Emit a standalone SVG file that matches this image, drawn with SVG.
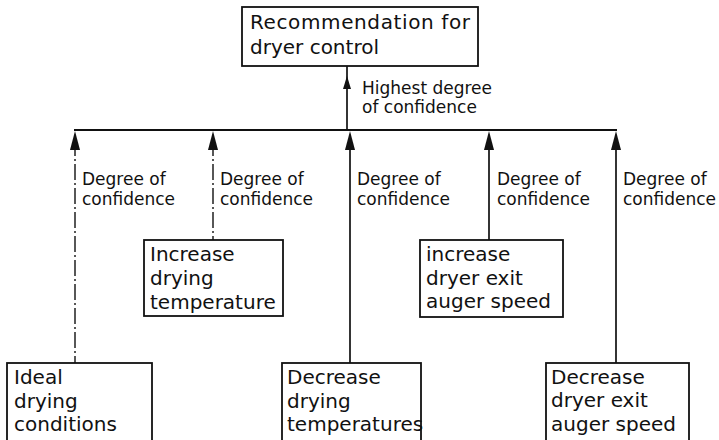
<svg xmlns="http://www.w3.org/2000/svg" width="719" height="440" viewBox="0 0 719 440">
<style>
.box{fill:#fff;stroke:#111;stroke-width:1.8}
.bt{font-family:"DejaVu Sans",sans-serif;font-size:20px;fill:#111}
.lt{font-family:"DejaVu Sans",sans-serif;font-size:17px;fill:#111}
.ln{stroke:#111;stroke-width:1.7;fill:none}
.dash{stroke-dasharray:16 3 2 3;stroke-width:1.4}
.ah{fill:#111}
</style>
<rect width="719" height="440" fill="#fff"/>
<g id="connectors">
<line class="ln" x1="74" y1="130" x2="617" y2="130" style="stroke-width:2"/>
<line class="ln" x1="347" y1="130" x2="347" y2="66"/>
<polygon class="ah" points="347,76 343,89 351,89"/>
<line class="ln dash" x1="75" y1="140" x2="75" y2="363"/>
<polygon class="ah" points="75,131 70,150 80,150"/>
<line class="ln dash" x1="213" y1="140" x2="213" y2="240"/>
<polygon class="ah" points="213,131 208,150 218,150"/>
<line class="ln" x1="350" y1="140" x2="350" y2="363"/>
<polygon class="ah" points="350,131 345,150 355,150"/>
<line class="ln" x1="489" y1="140" x2="489" y2="240"/>
<polygon class="ah" points="489,131 484,150 494,150"/>
<line class="ln" x1="616" y1="140" x2="616" y2="363"/>
<polygon class="ah" points="616,131 611,150 621,150"/>
<text class="lt" x="362" y="94">Highest degree</text>
<text class="lt" x="362" y="113">of confidence</text>
<text class="lt" x="82" y="185">Degree of</text>
<text class="lt" x="82" y="205">confidence</text>
<text class="lt" x="220" y="185">Degree of</text>
<text class="lt" x="220" y="205">confidence</text>
<text class="lt" x="357" y="185">Degree of</text>
<text class="lt" x="357" y="205">confidence</text>
<text class="lt" x="497" y="185">Degree of</text>
<text class="lt" x="497" y="205">confidence</text>
<text class="lt" x="623" y="185">Degree of</text>
<text class="lt" x="623" y="205">confidence</text>
</g>
<g id="top">
<rect class="box" x="242" y="7" width="236" height="59"/>
<text class="bt" x="250" y="29" textLength="220" lengthAdjust="spacing">Recommendation for</text>
<text class="bt" x="250" y="54">dryer control</text>
</g>
<g id="ideal">
<rect class="box" x="7" y="363" width="145" height="90"/>
<text class="bt" x="14" y="384">Ideal</text>
<text class="bt" x="14" y="408">drying</text>
<text class="bt" x="14" y="431">conditions</text>
</g>
<g id="inc-temp">
<rect class="box" x="144" y="240" width="139" height="76"/>
<text class="bt" x="150" y="261">Increase</text>
<text class="bt" x="150" y="285">drying</text>
<text class="bt" x="150" y="309">temperature</text>
</g>
<g id="dec-temp">
<rect class="box" x="282" y="363" width="139" height="90"/>
<text class="bt" x="287" y="384">Decrease</text>
<text class="bt" x="287" y="408">drying</text>
<text class="bt" x="287" y="431">temperatures</text>
</g>
<g id="inc-speed">
<rect class="box" x="420" y="240" width="143" height="77"/>
<text class="bt" x="426" y="261">increase</text>
<text class="bt" x="426" y="285">dryer exit</text>
<text class="bt" x="426" y="308">auger speed</text>
</g>
<g id="dec-speed">
<rect class="box" x="546" y="363" width="143" height="90"/>
<text class="bt" x="551" y="384">Decrease</text>
<text class="bt" x="551" y="407">dryer exit</text>
<text class="bt" x="551" y="431">auger speed</text>
</g>
</svg>
